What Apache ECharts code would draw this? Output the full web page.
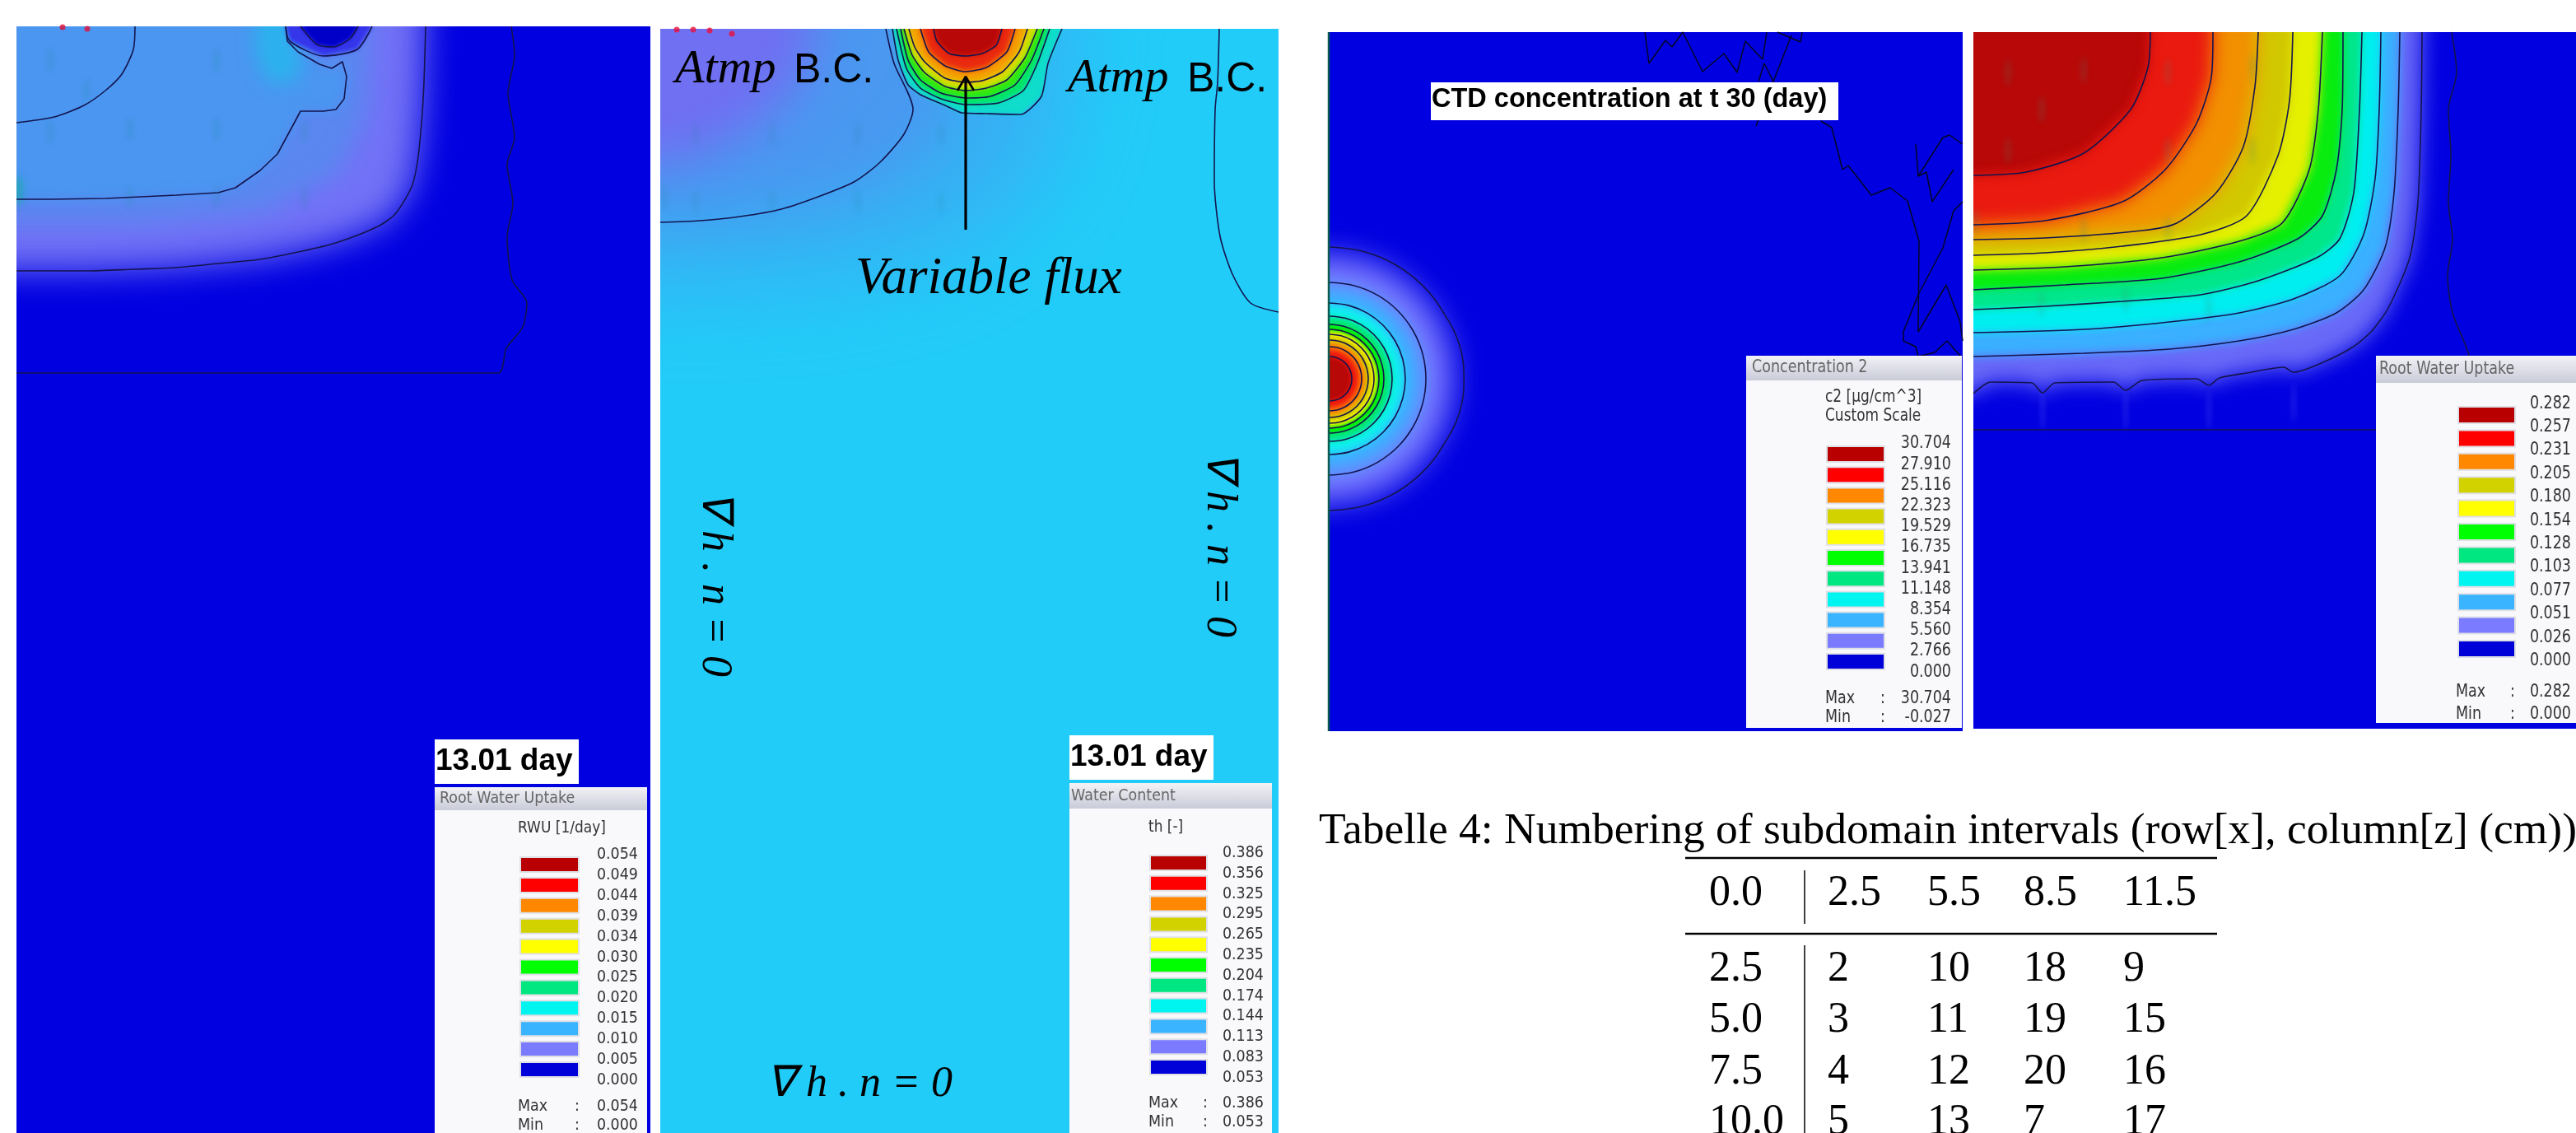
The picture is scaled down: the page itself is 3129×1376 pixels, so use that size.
<!DOCTYPE html>
<html><head><meta charset="utf-8">
<style>html,body{margin:0;padding:0;background:#fff}#c{width:3129px;height:1376px}</style>
<script src="https://cdn.jsdelivr.net/npm/echarts@6/dist/echarts.min.js"></script>
</head><body><div id="c"></div>
<script>
// ---------- legend values ----------
const scaleColors = ['#b80000','#ff0000','#ff8800','#d2d200','#ffff00','#00ff00','#00e680','#00f5f0','#3ab4ff','#7b7bff','#0000d8'];
const rwu13Ticks = ['0.054','0.049','0.044','0.039','0.034','0.030','0.025','0.020','0.015','0.010','0.005','0.000'];
const theta13Ticks = ['0.386','0.356','0.325','0.295','0.265','0.235','0.204','0.174','0.144','0.113','0.083','0.053'];
const c2Ticks = ['30.704','27.910','25.116','22.323','19.529','16.735','13.941','11.148','8.354','5.560','2.766','0.000'];
const rwu30Ticks = ['0.282','0.257','0.231','0.205','0.180','0.154','0.128','0.103','0.077','0.051','0.026','0.000'];

// ---------- panel A contours (x, depth) ----------
const aOuter = [[601,0],[605,35],[597,81],[605,135],[596,168],[603,215],[596,255],[602,308],[620,336],[615,365],[595,391],[585,421],[0,421]];
const aFront = [[497,0],[495,68],[492,118],[487,165],[480,195],[460,228],[439,243],[388,263],[347,273],[296,283],[245,288],[194,293],[143,295],[85,297],[0,297]];
const aMiddle = [[327,0],[329,18],[342,31],[368,46],[383,51],[396,43],[401,61],[398,88],[388,101],[373,103],[345,103],[337,118],[317,155],[296,175],[266,196],[245,202],[194,205],[108,209],[41,210],[0,210]];
const aInner = [[144,0],[142,28],[128,58],[108,78],[82,96],[46,110],[0,117]];
const aHoleOuter = [[327,0],[332,18],[373,36],[414,28],[432,0]];
const aHoleInner = [[345,0],[365,22],[385,25],[405,15],[415,0]];
const aCyanPatch = [[291,-30],[327,-30],[347,45],[337,68],[306,68],[291,35]];
const aStreaks = [[41,41],[243,41],[85,78],[41,128],[138,125],[243,125],[350,128],[138,208],[243,208],[350,208]];
const aSpecks = [[56,1],[86,3]];

// ---------- panel B contours ----------
const bLeft = [[274,0],[284,42],[307,98],[296,128],[267,162],[237,185],[197,202],[147,219],[97,228],[48,233],[0,235]];
const bRight = [[679,0],[677,65],[674,98],[673,185],[680,252],[695,298],[717,333],[751,344]];
const bHaze1 = [[500,0],[490,120],[440,220],[340,280],[200,310],[0,320]];
const bHaze2 = [[370,0],[360,90],[310,160],[220,205],[110,225],[0,235]];
const bHaze3 = [[190,0],[175,60],[120,115],[60,150],[0,165]];
const plume1 = [[488,0],[471,42],[463,82],[438,104],[396,103],[366,102],[346,93],[316,80],[301,68],[289,38],[282,0]];
const plume2 = [[473,0],[458,42],[441,75],[411,90],[371,92],[341,85],[316,72],[299,48],[287,0]];
const plume3 = [[466,0],[451,38],[431,68],[401,82],[371,84],[341,78],[316,62],[301,38],[292,0]];
const plume4 = [[458,0],[443,35],[421,62],[396,72],[371,75],[346,70],[321,53],[306,32],[296,0]];
const plume5 = [[446,0],[436,28],[416,52],[391,63],[371,65],[346,60],[321,40],[309,22],[302,0]];
const plume6 = [[431,0],[421,28],[396,47],[371,52],[346,45],[326,28],[316,0]];
const plume7 = [[415,0],[408,20],[391,30],[371,33],[351,30],[336,15],[332,0]];
const bStreaks = [[43,128],[136,128],[240,128],[341,128],[43,210],[136,210],[240,210],[341,210],[5,205]];
const bSpecks = [[60,2],[87,6],[20,1],[40,1]];
const fluxShaft = [[371,244],[371,60]];
const fluxHead = [[361,75],[371,58],[381,75]];

// ---------- panel C contours ----------
const cAngles = [-90,-75,-60,-45,-30,-15,0,15,30,45,60,75,90];
const cRadii = [160,117,92,76,66,60,54,47,39,27];
const cOuterScale = [1,1,1,1,1,1.02,1.02,1.02,1,1,1,1,1];
const cWiggle1 = [[385,0],[390,38],[410,10],[418,18],[431,0],[455,48],[481,26],[497,49],[507,11],[528,33],[533,0]];
const cWiggle2 = [[546,0],[574,12],[576,0]];
const cWiggle3 = [[520,114],[541,60],[530,38],[523,60]];
const cWiggle3b = [[541,60],[563,4]];
const cWiggle4 = [[599,108],[612,116],[625,167],[632,162],[660,198],[683,189],[704,205],[718,254],[717,364],[751,307],[768,352],[771,375]];
const cWiggle5 = [[714,136],[717,175],[747,128],[755,125],[771,136]];
const cWiggle6 = [[717,175],[727,170],[734,206],[760,167]];
const cWiggle7 = [[771,206],[760,217],[747,262],[717,319],[699,364],[699,375],[714,382],[717,394]];
const cWiggle8 = [[717,394],[737,389],[752,375],[768,393]];
const cEdge = [[1,0],[1,849]];

// ---------- panel D contours ----------
const dFar = [[581,0],[587,49],[577,94],[580,150],[577,206],[582,251],[576,296],[582,341],[601,389],[606,420]];
const dFloor = [[0,483],[520,483]];
const d1 = [[545,0],[544,94],[540,206],[530,274],[504,335],[483,364],[460,383],[427,400],[389,413],[377,407],[332,414],[299,420],[286,429],[271,421],[205,423],[185,435],[170,425],[99,426],[84,438],[71,426],[21,425],[0,439]];
const d2 = [[518,0],[516,94],[511,195],[500,262],[474,313],[441,341],[389,361],[323,375],[238,385],[134,390],[0,394]];
const d3 = [[495,0],[493,94],[488,178],[474,246],[445,296],[389,324],[323,341],[238,352],[134,361],[0,365]];
const d4 = [[472,0],[469,94],[462,195],[445,251],[417,274],[346,302],[276,319],[181,327],[87,333],[0,337]];
const d5 = [[449,0],[448,94],[441,167],[424,223],[394,251],[323,279],[229,299],[111,307],[0,313]];
const d6 = [[424,0],[419,94],[408,167],[375,232],[323,254],[229,274],[111,285],[0,289]];
const d7 = [[388,0],[384,83],[370,150],[332,223],[276,246],[181,260],[87,268],[0,271]];
const d8 = [[346,0],[342,66],[328,139],[295,195],[247,232],[205,241],[87,250],[0,252]];
const d9 = [[291,0],[289,55],[271,111],[233,167],[181,206],[87,229],[0,234]];
const d10 = [[215,0],[212,43],[191,94],[134,147],[64,170],[0,174]];
const dStreaks = [[42,49],[134,46],[236,49],[339,43],[83,94],[42,144],[236,144],[339,144],[3,230],[134,240],[236,240],[83,330],[185,325],[286,335]];
const dDrips = [[84,460],[185,460],[286,460],[389,450]];

// ---------- table ----------
const tableCaption = 'Tabelle 4: Numbering of subdomain intervals (row[x], column[z] (cm))';
const tableHeader = ['0.0','2.5','5.5','8.5','11.5'];
const tableRows = [['2.5','2','10','18','9'],['5.0','3','11','19','15'],['7.5','4','12','20','16'],['10.0','5','13','7','17']];

// ---------- layout ----------
const panels = [
  {left:20,top:32,w:770,h:1344,bg:'#0000e1'},
  {left:802,top:35,w:751,h:1341,bg:'#22ccf8'},
  {left:1613,top:39,w:771,h:849,bg:'#0000e1'},
  {left:2397,top:39,w:732,h:846,bg:'#0000e1'}
];
const FAR = 8000;
const series = [];
function cornerPoly(p){const a=p[0],b=p[p.length-1];return p.concat([[-300,b[1]],[-300,-300],[a[0],-300]]);}
function topPoly(p){const a=p[0],b=p[p.length-1];return p.concat([[b[0],-300],[a[0],-300]]);}
function fields(panel,regions){
  series.push({type:'custom',coordinateSystem:'cartesian2d',xAxisIndex:panel,yAxisIndex:panel,clip:true,z:2,silent:true,
    data:regions.map((r,i)=>[i,0]),
    renderItem(params,api){
      const r=regions[api.value(0)];
      return {type:'polygon',x:-FAR,shape:{points:r.pts.map(q=>api.coord(q))},
        style:{fill:r.color,shadowColor:r.color,shadowBlur:r.blur,shadowOffsetX:FAR}};
    }});
}
function streaks(panel,list,color,rx,ry,blur){
  series.push({type:'custom',coordinateSystem:'cartesian2d',xAxisIndex:panel,yAxisIndex:panel,clip:true,z:3,silent:true,
    data:list,
    renderItem(params,api){
      const c=api.coord([api.value(0),api.value(1)]);
      return {type:'ellipse',x:-FAR,shape:{cx:c[0],cy:c[1],rx:rx,ry:ry},
        style:{fill:color,shadowColor:color,shadowBlur:blur,shadowOffsetX:FAR}};
    }});
}
function contour(panel,data,width,color,smooth){
  series.push({type:'line',xAxisIndex:panel,yAxisIndex:panel,data:data,showSymbol:false,symbol:'none',clip:true,z:5,silent:true,smooth:smooth||false,
    lineStyle:{color:color||'#14144e',width:width||1.6}});
}
function specks(panel,data,color){
  series.push({type:'scatter',xAxisIndex:panel,yAxisIndex:panel,data:data,symbolSize:7,clip:true,z:5,silent:true,itemStyle:{color:color}});
}

// Panel A
fields(0,[
  {pts:cornerPoly(aFront),color:'#7272f6',blur:42},
  {pts:cornerPoly([[430,0],[425,110],[390,180],[300,225],[150,240],[0,240]]),color:'#5a88f0',blur:30},
  {pts:cornerPoly(aMiddle),color:'#4a96f0',blur:14},
  {pts:aCyanPatch,color:'#2cb2ee',blur:22},
  {pts:topPoly(aHoleOuter),color:'#3535ea',blur:5},
  {pts:topPoly(aHoleInner),color:'#0000c8',blur:4}
]);
streaks(0,aStreaks,'rgba(30,140,150,0.55)',2,14,6);
streaks(0,[[2,200]],'rgba(20,170,160,0.8)',6,18,8);
[aOuter,aFront,aInner,aHoleOuter,aHoleInner].forEach(l=>contour(0,l,1.6,null,0.25));
contour(0,aMiddle);
specks(0,aSpecks,'#e0103a');

// Panel B
fields(1,[
  {pts:cornerPoly(bHaze1),color:'#38b0f4',blur:110},
  {pts:cornerPoly(bHaze2),color:'#4a98f0',blur:70},
  {pts:cornerPoly(bHaze3),color:'#7070f2',blur:60},
  {pts:topPoly(plume1),color:'#0fdccb',blur:4},
  {pts:topPoly(plume2),color:'#00e46a',blur:5},
  {pts:topPoly(plume3),color:'#30e810',blur:5},
  {pts:topPoly(plume4),color:'#d2e000',blur:5},
  {pts:topPoly(plume5),color:'#f5a000',blur:6},
  {pts:topPoly(plume6),color:'#ea2a10',blur:7},
  {pts:topPoly(plume7),color:'#b80808',blur:6}
]);
streaks(1,bStreaks,'rgba(30,130,150,0.5)',2,14,6);
[bLeft,bRight].forEach(l=>contour(1,l,1.6,null,0.25));
[plume1,plume2,plume3,plume4,plume5,plume6,plume7].forEach(l=>contour(1,l,1.6,null,0.2));
specks(1,bSpecks,'#e8103a');
contour(1,fluxShaft,3.2,'#000');
contour(1,fluxHead,2.6,'#000');

// Panel C
const cCenter=[2,421];
const ring=(r,f)=>cAngles.map((a,i)=>[cCenter[0]+r*(f?f[i]:1)*Math.cos(a*Math.PI/180),cCenter[1]+r*Math.sin(a*Math.PI/180)]);
const closeRing=r=>r.concat([[-300,r[r.length-1][1]],[-300,r[0][1]]]);
fields(2,[
  {pts:closeRing(ring(150)),color:'#7a7aff',blur:36},
  {pts:closeRing(ring(112)),color:'#3ab4ff',blur:22},
  {pts:closeRing(ring(90)),color:'#0ff0ee',blur:10},
  {pts:closeRing(ring(76)),color:'#00e680',blur:6},
  {pts:closeRing(ring(66)),color:'#00f000',blur:5},
  {pts:closeRing(ring(58)),color:'#f0f000',blur:4},
  {pts:closeRing(ring(51)),color:'#d2c800',blur:4},
  {pts:closeRing(ring(44)),color:'#ff8800',blur:5},
  {pts:closeRing(ring(36)),color:'#ee1a10',blur:6},
  {pts:closeRing(ring(26)),color:'#b80808',blur:5}
]);
cRadii.forEach((r,i)=>contour(2,ring(r,i===0?cOuterScale:null),1.6,null,0.4));
[cWiggle1,cWiggle2,cWiggle3,cWiggle3b,cWiggle4,cWiggle5,cWiggle6,cWiggle7,cWiggle8].forEach(l=>contour(2,l,1.5,'#050528'));
contour(2,cEdge,2.5,'#0c5a50');

// Panel D
fields(3,[
  {pts:cornerPoly(d1),color:'#6a6af8',blur:26},
  {pts:cornerPoly(d2),color:'#3ab0ff',blur:12},
  {pts:cornerPoly(d3),color:'#00eef0',blur:10},
  {pts:cornerPoly(d4),color:'#00e68a',blur:10},
  {pts:cornerPoly(d5),color:'#08ec10',blur:9},
  {pts:cornerPoly(d6),color:'#e4f000',blur:12},
  {pts:cornerPoly(d7),color:'#d2c800',blur:12},
  {pts:cornerPoly(d8),color:'#f29000',blur:20},
  {pts:cornerPoly(d9),color:'#ea1a10',blur:20},
  {pts:cornerPoly(d10),color:'#b80808',blur:14}
]);
streaks(3,dStreaks,'rgba(70,140,110,0.5)',3,16,7);
streaks(3,dDrips,'rgba(125,125,255,0.55)',2,24,6);
[dFar,dFloor,d1,d2,d3,d4,d5,d6,d7,d8,d9,d10].forEach(l=>contour(3,l,1.6,null,0.25));

// ---------- overlays ----------
const g=[]; let zi=100;
const legendFont='"DejaVu Sans"';
function rect(x,y,w,h,fill,stroke){g.push({type:'rect',z:zi++,shape:{x,y,width:w,height:h},style:{fill,stroke:stroke||null,lineWidth:stroke?2:0},silent:true});}
function text(t,x,y,font,fill,align,rot,sy){g.push({type:'text',z:zi++,x,y,rotation:rot||0,scaleY:sy||1,silent:true,style:{text:t,x:0,y:0,font,fill,textAlign:align||'left',textVerticalAlign:'middle'}});}
function line(x1,y1,x2,y2,w,c){g.push({type:'line',z:zi++,silent:true,shape:{x1,y1,x2,y2},style:{stroke:c||'#000',lineWidth:w}});}
function legend(L){
  const f='17.5px '+legendFont, s=L.sy2||1;
  rect(L.x,L.y,L.w,L.h,'#f9f9fc');
  g.push({type:'rect',z:zi++,silent:true,shape:{x:L.x,y:L.y,width:L.w,height:L.bar},style:{fill:{type:'linear',x:0,y:0,x2:0,y2:1,colorStops:[{offset:0,color:'#f2f2f6'},{offset:1,color:'#c9cbd8'}]}}});
  text(L.title,L.tx,L.y+L.bar/2,f,'#666','left',0,s);
  L.head.forEach((h,i)=>text(h,L.mx,L.hy+i*23,'17px '+legendFont,'#333','left',0,s));
  scaleColors.forEach((c,i)=>rect(L.sx,L.sy+i*L.step,L.sw,L.sh,c,'#dfe0e6'));
  L.ticks.forEach((t,i)=>text(t,L.vr,L.vy+i*L.step,f,'#333','right',0,s));
  text('Max',L.mx,L.maxy,f,'#333','left',0,s);
  text(':',L.cx,L.maxy,f,'#333','left',0,s);
  text(L.max,L.vr,L.maxy,f,'#333','right',0,s);
  text('Min',L.mx,L.miny,f,'#333','left',0,s);
  text(':',L.cx,L.miny,f,'#333','left',0,s);
  text(L.min,L.vr,L.miny,f,'#333','right',0,s);
}
legend({x:528,y:956,w:258,h:420,bar:28,title:'Root Water Uptake',tx:534,head:['RWU [1/day]'],mx:629,hy:1006,sx:632,sy:1041,sw:71,sh:18,step:24.9,ticks:rwu13Ticks,vr:775,vy:1038,cx:698,maxy:1344,miny:1367,max:'0.054',min:'0.000',sy2:1.12});
legend({x:1299,y:951,w:246,h:425,bar:31,title:'Water Content',tx:1301,head:['th [-]'],mx:1395,hy:1005,sx:1397,sy:1039,sw:69,sh:18,step:24.8,ticks:theta13Ticks,vr:1535,vy:1036,cx:1461,maxy:1340,miny:1363,max:'0.386',min:'0.053',sy2:1.12});
legend({x:2121,y:432,w:262,h:452,bar:30,title:'Concentration 2',tx:2128,head:['c2 [µg/cm^3]','Custom Scale'],mx:2217,hy:483,sx:2219,sy:542,sw:70,sh:19,step:25.2,ticks:c2Ticks,vr:2370,vy:539,cx:2284,maxy:849,miny:872,max:'30.704',min:'-0.027',sy2:1.2});
legend({x:2886,y:432,w:243,h:446,bar:33,title:'Root Water Uptake',tx:2890,head:[],mx:2983,hy:0,sx:2986,sy:494,sw:69,sh:20,step:28.4,ticks:rwu30Ticks,vr:3123,vy:490,cx:3049,maxy:840,miny:867,max:'0.282',min:'0.000',sy2:1.25});

rect(528,898,175,54,'#fff'); text('13.01 day',529,925,'bold 37px "Liberation Sans"','#000');
rect(1299,893,175,54,'#fff'); text('13.01 day',1300,920,'bold 37px "Liberation Sans"','#000');
rect(1738,100,495,46,'#fff'); text('CTD concentration at t 30 (day)',1739,121,'bold 32.5px "Liberation Sans"','#000');

const mathFont='italic 58px "Liberation Serif"';
text('Atmp',820,85,mathFont,'#000'); text('B.C.',964,86,'50px "Liberation Sans"','#000');
text('Atmp',1297,96,mathFont,'#000'); text('B.C.',1442,97,'50px "Liberation Sans"','#000');
text('Variable flux',1039,339,'italic 63px "Liberation Serif"','#000');
const gradText='∇ h . n = 0', gradFont='italic 52px "Liberation Serif"';
text(gradText,868,709,gradFont,'#000','center',-Math.PI/2);
text(gradText,1481,661,gradFont,'#000','center',-Math.PI/2);
text(gradText,1044,1317,gradFont,'#000','center');

const tableFont='52px "Liberation Serif"';
text(tableCaption,1602,1010,'53.5px "Liberation Serif"','#000');
line(2047,1042,2693,1042,2.5); line(2047,1134,2693,1134,2.5);
line(2192,1057,2192,1122,1.5); line(2192,1148,2192,1376,1.5);
const colX=[2076,2220,2341,2458,2579], rowY=[1177,1239,1302,1363];
tableHeader.forEach((t,i)=>text(t,colX[i],1085,tableFont,'#000'));
tableRows.forEach((r,j)=>r.forEach((t,i)=>text(t,colX[i],rowY[j],tableFont,'#000')));

const chart=echarts.init(document.getElementById('c'),null,{renderer:'canvas'});
chart.setOption({
  animation:false,backgroundColor:'#fff',
  grid:panels.map(p=>({left:p.left,top:p.top,width:p.w,height:p.h,show:true,backgroundColor:p.bg,borderWidth:0,containLabel:false})),
  xAxis:panels.map((p,i)=>({type:'value',gridIndex:i,min:0,max:p.w,show:false})),
  yAxis:panels.map((p,i)=>({type:'value',gridIndex:i,min:0,max:p.h,inverse:true,show:false})),
  series:series,
  graphic:{elements:g}
});
</script></body></html>
